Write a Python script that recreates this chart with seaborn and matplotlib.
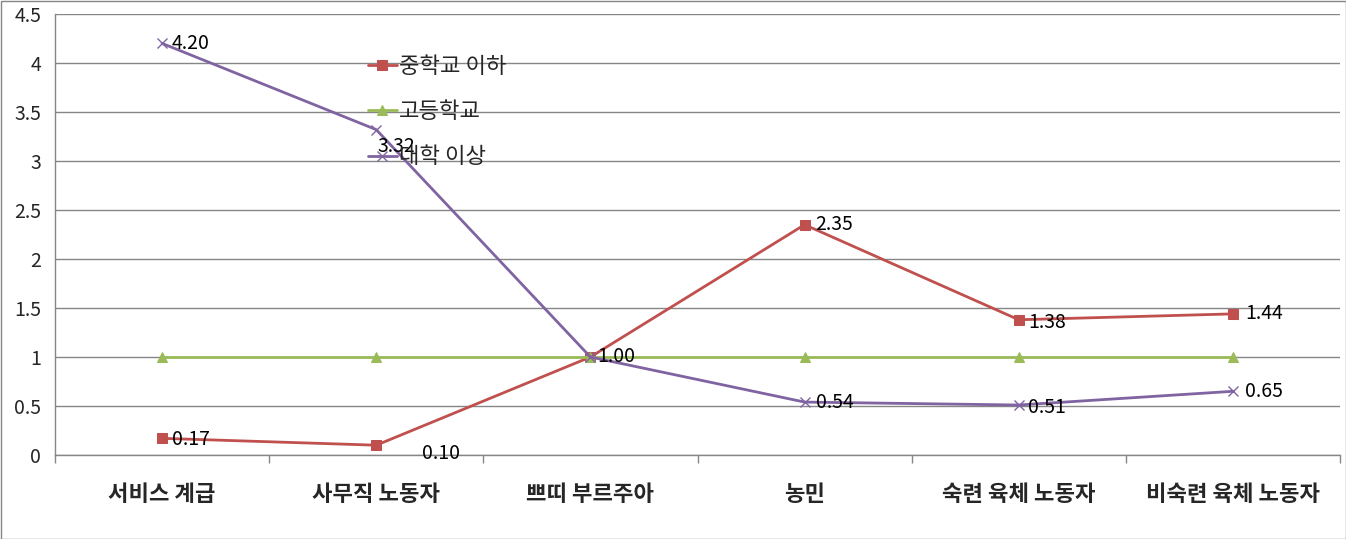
import matplotlib
matplotlib.use("Agg")
import matplotlib.pyplot as plt
import seaborn as sns
import pandas as pd
import numpy as np
from matplotlib.patches import Rectangle

categories = ["서비스 계급", "사무직 노동자", "쁘띠 부르주아", "농민", "숙련 육체 노동자", "비숙련 육체 노동자"]
series_names = ["중학교 이하", "고등학교", "대학 이상"]
middle = [0.17, 0.10, 1.00, 2.35, 1.38, 1.44]
high = [1.0, 1.0, 1.0, 1.0, 1.0, 1.0]
college = [4.20, 3.32, 1.00, 0.54, 0.51, 0.65]
yticks = [0, 0.5, 1, 1.5, 2, 2.5, 3, 3.5, 4, 4.5]
ytick_labels = ["0", "0.5", "1", "1.5", "2", "2.5", "3", "3.5", "4", "4.5"]

sns.set_theme(style="white")
plt.rcParams['font.family'] = ['Noto Sans CJK KR', 'DejaVu Sans']

colors = {"중학교 이하": "#C0504D", "고등학교": "#9BBB59", "대학 이상": "#8064A2"}
markers = {"중학교 이하": "s", "고등학교": "^", "대학 이상": "X"}

df = pd.DataFrame({
    "cat": categories * 3,
    "pos": list(range(len(categories))) * 3,
    "val": middle + high + college,
    "series": [series_names[0]] * 6 + [series_names[1]] * 6 + [series_names[2]] * 6,
})

fig = plt.figure(figsize=(13.46, 5.39), dpi=100)
ax = fig.add_axes([55/1346, 1-455/539, (1340-55)/1346, (455-14)/539])

for name in series_names:
    sub = df[df.series == name]
    mk = markers[name]
    kw = dict(marker="s", markersize=7) if mk == "s" else (dict(marker="^", markersize=7) if mk == "^" else dict(marker="x", markersize=7, markeredgewidth=1.0))
    sns.lineplot(data=sub, x="pos", y="val", ax=ax, color=colors[name], linewidth=2.0,
                 label=name, sort=False, markeredgecolor=colors[name], **kw)

ax.set_xlim(-0.5, 5.5)
ax.set_ylim(0, 4.5)
ax.set_yticks(yticks)
ax.set_yticklabels(ytick_labels, fontsize=14)
ax.set_xticks(range(len(categories)))
ax.set_xticklabels(categories, fontsize=16, fontweight="bold")
ax.set_xticks(np.arange(-0.5, 6.0, 1.0), minor=True)
ax.tick_params(axis="x", which="major", length=0, pad=20)
ax.tick_params(axis="x", which="minor", length=6, color="#868686", direction="out", bottom=True)
ax.tick_params(axis="y", length=0, pad=10)
ax.set_xlabel("")
ax.set_ylabel("")
ax.yaxis.grid(True, color="#868686", linewidth=1.0)
ax.set_axisbelow(True)
for s in ["top", "right"]:
    ax.spines[s].set_visible(False)
for s in ["left", "bottom"]:
    ax.spines[s].set_color("#868686")
    ax.spines[s].set_linewidth(1.0)

# data labels
def lab(x, y, text, dx, dy):
    ax.annotate(text, (x, y), xytext=(dx, dy), textcoords="offset points",
                fontsize=14, va="center", ha="left", color="black")

lab(0, 0.17, "0.17", 7, -1)
lab(1, 0.10, "0.10", 33, -6)
lab(2, 1.00, "1.00", 5, 0)
lab(3, 2.35, "2.35", 8, 0)
lab(4, 1.38, "1.38", 7, -2)
lab(5, 1.44, "1.44", 9, 0)
lab(0, 4.20, "4.20", 7, 0)
lab(1, 3.32, "3.32", 1, -12)
lab(3, 0.54, "0.54", 8, 0)
lab(4, 0.51, "0.51", 7, -2)
lab(5, 0.65, "0.65", 9, 0)

leg = ax.legend(loc="upper left", bbox_to_anchor=(313/1285, 1-41/441), frameon=False,
                fontsize=16, handlelength=1.3, handletextpad=0.1, labelspacing=1.0,
                borderpad=0, borderaxespad=0)

fig.patches.append(Rectangle((0.5/1346, 0.5/539), 1-1/1346, 1-1/539, transform=fig.transFigure,
                             fill=False, edgecolor="#868686", linewidth=1.0))

fig.savefig("out.png", dpi=100)
